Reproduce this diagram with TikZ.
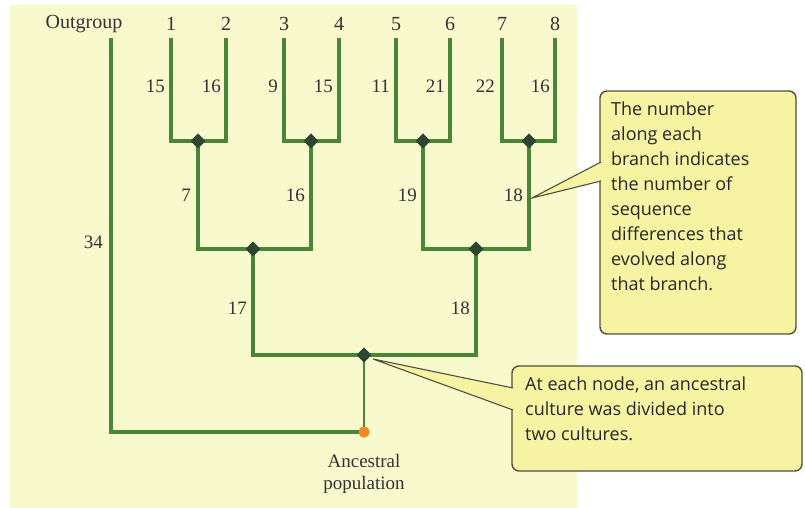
\documentclass[tikz,border=0pt]{standalone}
\usepackage{fontspec}
\setmainfont{Liberation Serif}
\newfontfamily\callfont{Open Sans}
\usetikzlibrary{calc,shapes.geometric}
\definecolor{panel}{HTML}{F8F9CC}
\definecolor{branch}{HTML}{4A8638}
\definecolor{knot}{HTML}{2E4630}
\definecolor{callfill}{HTML}{F6F4A2}
\definecolor{callline}{HTML}{50503E}
\definecolor{rootdot}{HTML}{F08A1C}
\tikzset{
  br/.style={draw=branch, line width=3.4pt},
  brthin/.style={draw=branch, line width=2pt},
  knotmark/.style={diamond, fill=knot, inner sep=0pt, minimum size=15pt, draw=none},
  lbl/.style={font=\fontsize{20}{22}\selectfont, text=black!80, inner sep=1pt},
  num/.style={font=\fontsize{19}{21}\selectfont, text=black!80, inner sep=1pt, anchor=east},
  callbox/.style={draw=callline, line width=1.4pt, fill=callfill, rounded corners=7pt},
  calltext/.style={font=\callfont\fontsize{18}{25}\selectfont, text=black!85, align=left, anchor=north west, inner sep=0pt},
}
\begin{document}
\begin{tikzpicture}[x=1pt,y=-1pt]
\useasboundingbox (0,0) rectangle (805,508);
\fill[white] (0,0) rectangle (805,508);
\fill[panel] (10,5) rectangle (577,508);

% leaf labels
\node[lbl] (og) at (84,24) {Outgroup};
\node[lbl] (l1) at (171,24) {1};
\node[lbl] (l2) at (226,24) {2};
\node[lbl] (l3) at (284,24) {3};
\node[lbl] (l4) at (339,24) {4};
\node[lbl] (l5) at (396,24) {5};
\node[lbl] (l6) at (450,24) {6};
\node[lbl] (l7) at (502,24) {7};
\node[lbl] (l8) at (555,24) {8};

% coordinates
\coordinate (t0) at (111,38);
\coordinate (t1) at (171,38);
\coordinate (t2) at (226,38);
\coordinate (t3) at (284,38);
\coordinate (t4) at (339,38);
\coordinate (t5) at (396,38);
\coordinate (t6) at (450,38);
\coordinate (t7) at (502,38);
\coordinate (t8) at (555,38);

\node[knotmark] (n12) at (198,141) {};
\node[knotmark] (n34) at (311,141) {};
\node[knotmark] (n56) at (423,141) {};
\node[knotmark] (n78) at (529,141) {};
\node[knotmark] (nA) at (253,249) {};
\node[knotmark] (nB) at (476,249) {};
\node[knotmark] (nR) at (364,355) {};
\node[circle, fill=rootdot, inner sep=0pt, minimum size=11pt] (root) at (364,432) {};

% branches
\draw[br] (t1) |- (n12.center) -| (t2);
\draw[br] (t3) |- (n34.center) -| (t4);
\draw[br] (t5) |- (n56.center) -| (t6);
\draw[br] (t7) |- (n78.center) -| (t8);
\draw[br] (n12.center) |- (nA.center) -| (n34.center);
\draw[br] (n56.center) |- (nB.center) -| (n78.center);
\draw[br] (nA.center) |- (nR.center) -| (nB.center);
\draw[br] (t0) |- (root.center);
\draw[brthin] (nR.center) -- (root.center);

% redraw marks on top
\foreach \n in {n12,n34,n56,n78,nA,nB,nR} \node[knotmark] at (\n) {};
\node[circle, fill=rootdot, inner sep=0pt, minimum size=11pt] at (root) {};

% branch numbers
\node[num] (b1) at (166,86) {15};
\node[num] (b2) at (222,86) {16};
\node[num] (b3) at (279,86) {9};
\node[num] (b4) at (334,86) {15};
\node[num] (b5) at (391,86) {11};
\node[num] (b6) at (446,86) {21};
\node[num] (b7) at (496,86) {22};
\node[num] (b8) at (551,86) {16};
\node[num] (bA) at (192,195) {7};
\node[num] (bB) at (306,195) {16};
\node[num] (bC) at (418,195) {19};
\node[num] (bD) at (524,195) {18};
\node[num] (bO) at (104,242) {34};
\node[num] (bE) at (248,308) {17};
\node[num] (bF) at (471,308) {18};

\node[lbl, align=center, font=\fontsize{19}{22}\selectfont] (anc) at (364,474) {Ancestral\\population};

% callout 1
\draw[callbox] (600,91) rectangle (796,334);
\coordinate (p1) at (532,198);
\fill[callfill] (601,162) -- (p1) -- (601,181) -- cycle;
\draw[callline, line width=1.1pt] (601,162) -- (p1) -- (601,181);
\node[calltext] (c1) at (611,102) {The number\\along each\\branch indicates\\the number of\\sequence\\differences that\\evolved along\\that branch.};

% callout 2
\draw[callbox] (512,366) rectangle (802,471);
\coordinate (p2) at (373,359);
\fill[callfill] (513,388) -- (p2) -- (513,410) -- cycle;
\draw[callline, line width=1.1pt] (513,388) -- (p2) -- (513,410);
\node[calltext] (c2) at (525,377) {At each node, an ancestral\\culture was divided into\\two cultures.};
\end{tikzpicture}
\end{document}
